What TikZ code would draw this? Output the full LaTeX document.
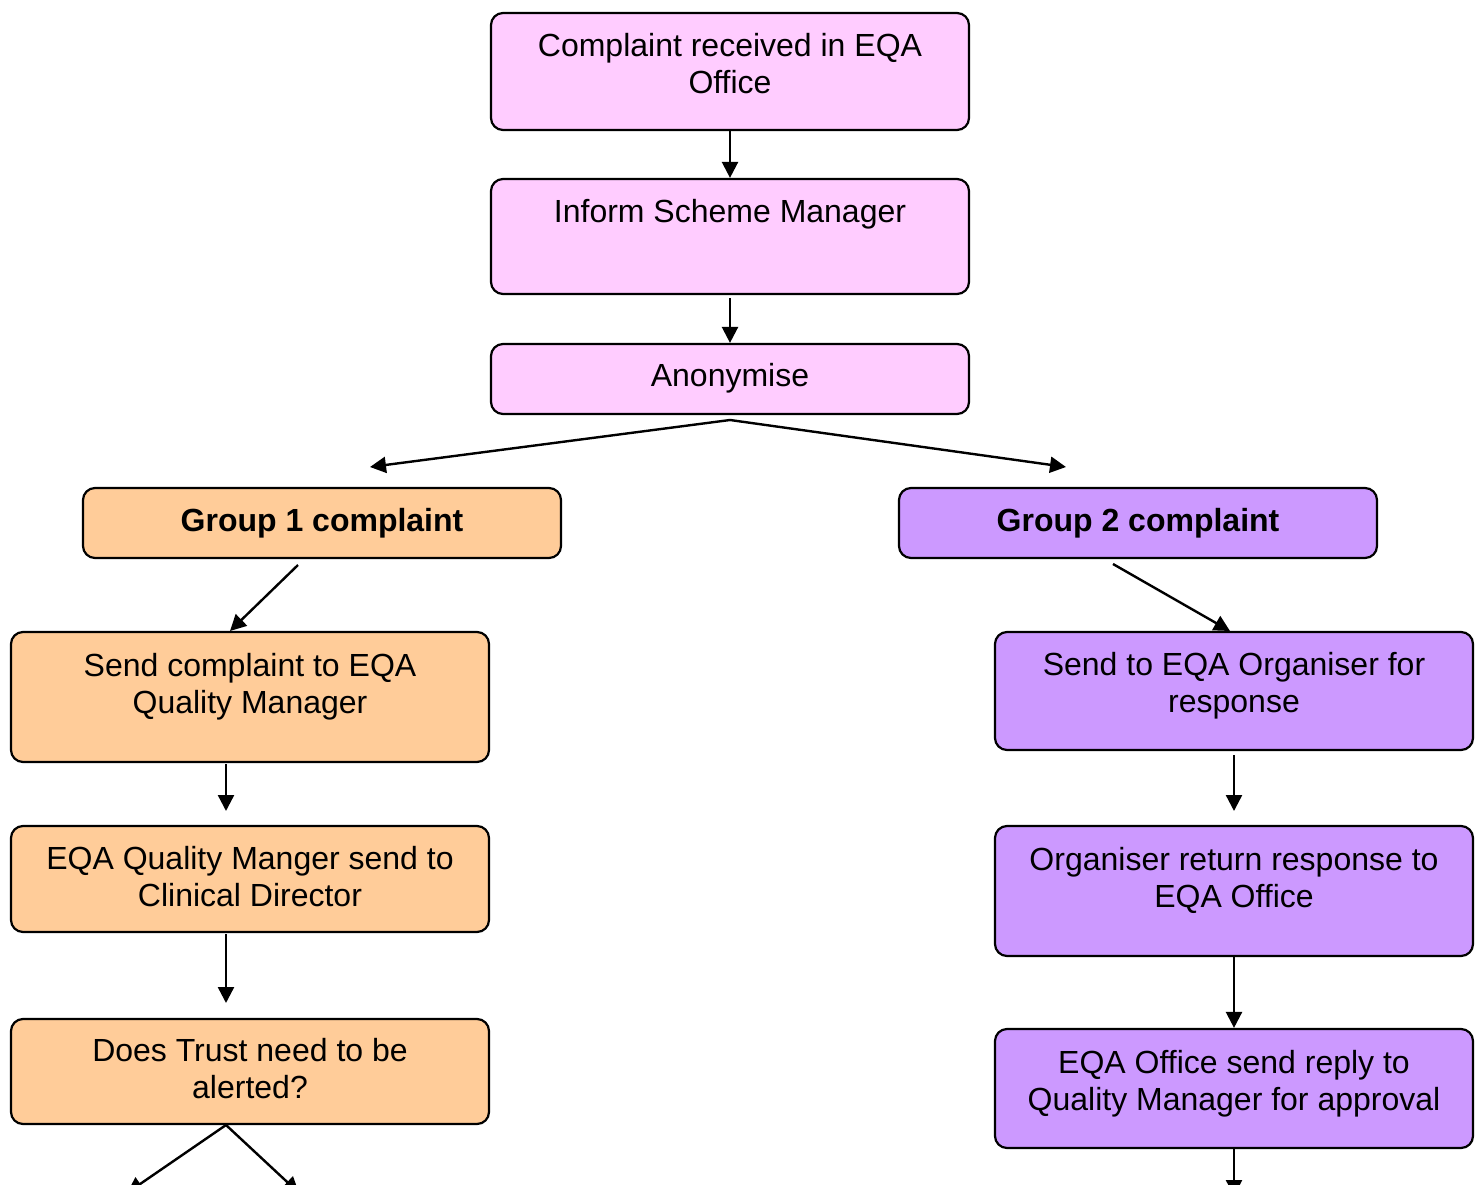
\documentclass[tikz,border=0pt]{standalone}
\usepackage{fontspec}
\setmainfont{Liberation Sans}
\usetikzlibrary{arrows.meta}
\definecolor{pinkf}{HTML}{FFCCFF}
\definecolor{orangef}{HTML}{FFCC99}
\definecolor{purplef}{HTML}{CC99FF}
\begin{document}
\begin{tikzpicture}[x=1pt,y=-1pt,
  box/.style={draw=black, line width=2.2pt, rounded corners=12pt, minimum width=478pt, inner sep=0pt},
  txt/.style={anchor=north, inner sep=0pt, align=center, font=\fontsize{32}{37}\selectfont},
  arr/.style={line width=2.4pt, -{Triangle[length=16pt,width=16pt]}}]
\fill[white] (0,0) rectangle (1482,1185);
\useasboundingbox (0,0) rectangle (1482,1185);
% boxes
\node[box, fill=pinkf, minimum height=117pt] (b1) at (730,71.5) {};
\node[box, fill=pinkf, minimum height=115pt] (b2) at (730,236.5) {};
\node[box, fill=pinkf, minimum height=70pt] (b3) at (730,379) {};
\node[box, fill=orangef, minimum height=70pt] (g1) at (322,523) {};
\node[box, fill=purplef, minimum height=70pt] (g2) at (1138,523) {};
\node[box, fill=orangef, minimum height=130pt] (b6) at (250,697) {};
\node[box, fill=orangef, minimum height=106pt] (b7) at (250,879) {};
\node[box, fill=orangef, minimum height=105pt] (b8) at (250,1071.5) {};
\node[box, fill=purplef, minimum height=118pt] (b9) at (1234,691) {};
\node[box, fill=purplef, minimum height=130pt] (b10) at (1234,891) {};
\node[box, fill=purplef, minimum height=119pt] (b11) at (1234,1088.5) {};
% texts
\node[txt] (t1) at (730,33) {Complaint received in EQA\\Office};
\node[txt] (t2) at (730,199) {Inform Scheme Manager};
\node[txt] (t3) at (730,363) {Anonymise};
\node[txt, font=\fontsize{32}{37}\selectfont\bfseries] (tg1) at (322,508) {Group 1 complaint};
\node[txt, font=\fontsize{32}{37}\selectfont\bfseries] (tg2) at (1138,508) {Group 2 complaint};
\node[txt] (t6) at (250,653) {Send complaint to EQA\\Quality Manager};
\node[txt] (t7) at (250,846) {EQA Quality Manger send to\\Clinical Director};
\node[txt] (t8) at (250,1038) {Does Trust need to be\\alerted?};
\node[txt] (t9) at (1234,652) {Send to EQA Organiser for\\response};
\node[txt] (t10) at (1234,847) {Organiser return response to\\EQA Office};
\node[txt] (t11) at (1234,1050) {EQA Office send reply to\\Quality Manager for approval};
% coordinates
\coordinate (split) at (730,420);
\coordinate (g1in) at (370,467);
\coordinate (g2in) at (1066,467);
\coordinate (g1out) at (298,565);
\coordinate (b6in) at (230,631);
\coordinate (g2out) at (1113,564);
\coordinate (b9in) at (1230,631);
\coordinate (b6out) at (226,764);
\coordinate (b7in) at (226,811);
\coordinate (b7out) at (226,934);
\coordinate (b8in) at (226,1003);
\coordinate (b8out) at (226,1125);
\coordinate (c8l) at (127,1193);
\coordinate (c8r) at (299,1193);
\coordinate (b9out) at (1234,755);
\coordinate (b10in) at (1234,811);
\coordinate (b11out) at (1234,1149);
\coordinate (c11) at (1234,1196);
% connectors
\draw[arr] (b1) -- (b2);
\draw[arr, shorten <=3pt] (b2) -- (b3);
\draw[arr] (split) -- (g1in);
\draw[arr] (split) -- (g2in);
\draw[arr] (g1out) -- (b6in);
\draw[arr] (g2out) -- (b9in);
\draw[arr] (b6out) -- (b7in);
\draw[arr] (b7out) -- (b8in);
\draw[arr] (b9out) -- (b10in);
\draw[arr] (b10) -- (b11);
\begin{scope}
\clip (0,0) rectangle (1482,1185);
\draw[arr] (b8out) -- (c8l);
\draw[arr] (b8out) -- (c8r);
\draw[arr] (b11out) -- (c11);
\end{scope}
\end{tikzpicture}
\end{document}
